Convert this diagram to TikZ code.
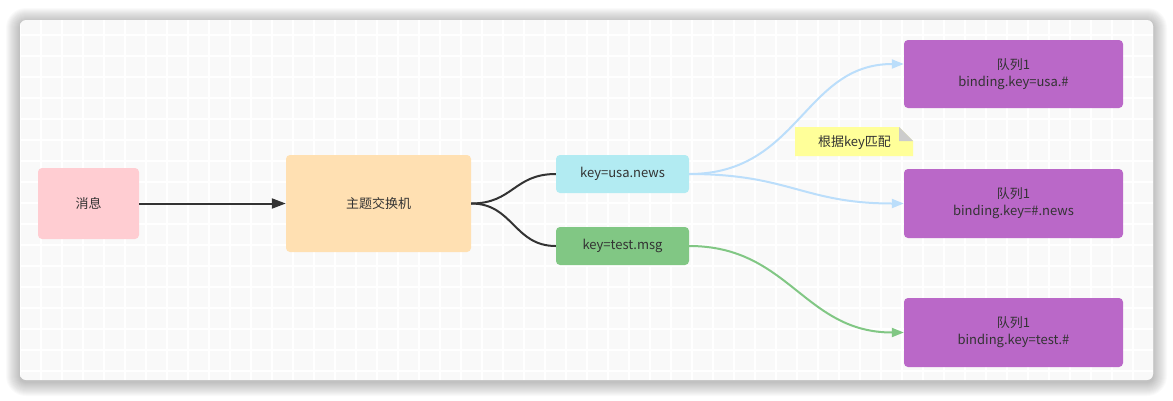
\documentclass[tikz,border=0pt]{standalone}
\usepackage{fontspec}
\setmainfont{Noto Sans CJK SC}
\usetikzlibrary{arrows.meta}
\definecolor{cardbg}{HTML}{F9F9F9}
\definecolor{txt}{HTML}{333333}
\definecolor{cpink}{HTML}{FFCDD2}
\definecolor{cpeach}{HTML}{FFE0B2}
\definecolor{ccyan}{HTML}{B2EBF2}
\definecolor{cgreen}{HTML}{81C784}
\definecolor{cpurple}{HTML}{BA68C8}
\definecolor{cblue}{HTML}{BBDEFB}
\definecolor{cnote}{HTML}{FFFF99}
\definecolor{cfold}{HTML}{CCCCCC}
\definecolor{cdark}{HTML}{333333}
\begin{document}
\begin{tikzpicture}[x=1pt,y=-1pt,
  box/.style={rectangle, rounded corners=4pt, inner sep=0pt, text=txt,
    font=\fontsize{13pt}{17pt}\selectfont, align=center},
  darkline/.style={draw=cdark, line width=2pt},
  blueline/.style={draw=cblue, line width=2pt, -{Triangle[length=12pt,width=9pt]}},
  greenline/.style={draw=cgreen, line width=2pt, -{Triangle[length=12pt,width=9pt]}}
]
\useasboundingbox (0,0) rectangle (1173,400);
% shadow
\foreach \i in {1,...,14} {
  \fill[black, opacity=0.018, rounded corners=6pt+\i pt] (20-\i,22-\i) rectangle (1153+\i,382+\i);
}
% card
\fill[cardbg, rounded corners=6pt] (20,20) rectangle (1153,380);
\begin{scope}
  \clip[rounded corners=6pt] (20,20) rectangle (1153,380);
  \foreach \k in {0,...,54} { \draw[white, line width=2pt] (20+21*\k,20) -- (20+21*\k,380); }
  \foreach \k in {0,...,17} { \draw[white, line width=2pt] (20,13.5+21*\k) -- (1153,13.5+21*\k); }
\end{scope}

% nodes
\node[box, fill=cpink, minimum width=101pt, minimum height=71pt] (msg) at (88.5,203.5) {消息};
\node[box, fill=cpeach, minimum width=185pt, minimum height=97pt] (ex) at (378.5,203.5) {主题交换机};
\node[box, fill=ccyan, minimum width=133pt, minimum height=38pt] (usa) at (622.5,174) {key=usa.news};
\node[box, fill=cgreen, minimum width=133pt, minimum height=38pt] (tst) at (622.5,246) {key=test.msg};
\node[box, fill=cpurple, minimum width=219pt, minimum height=68pt] (q1) at (1013.5,74) {队列1\\binding.key=usa.\#};
\node[box, fill=cpurple, minimum width=219pt, minimum height=69pt] (q2) at (1013.5,203.5) {队列1\\binding.key=\#.news};
\node[box, fill=cpurple, minimum width=219pt, minimum height=69pt] (q3) at (1013.5,332.5) {队列1\\binding.key=test.\#};

% note
\fill[cnote] (795,127) -- (899,127) -- (913,141) -- (913,156) -- (795,156) -- cycle;
\fill[cfold] (899,127) -- (913,141) -- (899,141) -- cycle;
\node[text=txt, font=\fontsize{13pt}{17pt}\selectfont, inner sep=0pt] (note) at (854.5,143) {根据key匹配};

% connectors
\draw[darkline, -{Triangle[length=14pt,width=10pt]}] (msg.east) -- (ex.west);
\draw[darkline] (ex.east) .. controls +(42,0) and +(-42,0) .. (usa.west);
\draw[darkline] (ex.east) .. controls +(42,0) and +(-42,0) .. (tst.west);
\coordinate (q1in) at ([yshift=10pt]q1.west);
\draw[blueline] (usa.east) .. controls +(110,0) and +(-100,0) .. (q1in);
\draw[blueline] (usa.east) .. controls +(100,0) and +(-100,0) .. (q2.west);
\draw[greenline] (tst.east) .. controls +(100,0) and +(-100,0) .. (q3.west);
\end{tikzpicture}
\end{document}
